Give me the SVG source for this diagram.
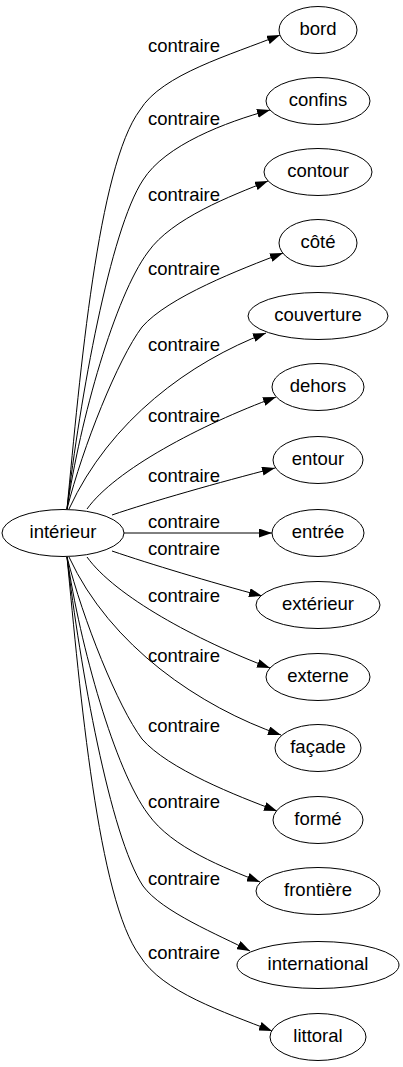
<svg xmlns="http://www.w3.org/2000/svg" width="403" height="1067" viewBox="0 0 403 1067">
<style>
.n ellipse{fill:#fff;stroke:#000;stroke-width:1}
text{font-family:"Liberation Sans",Arial,sans-serif;font-size:18.5px;fill:#000;text-anchor:middle}
.e path{fill:none;stroke:#000;stroke-width:1;marker-end:url(#ah)}
</style>
<defs>
<marker id="ah" viewBox="0 0 13 9" refX="13" refY="4.5" markerWidth="13" markerHeight="9" markerUnits="userSpaceOnUse" orient="auto">
<path d="M0,0 L13,4.5 L0,9 z" fill="#000"/>
</marker>
</defs>
<g id="edges" class="e">
<path d="M67,509 C80,374 98,166 140,110 C162,74 231,55 280,35"/>
<path d="M67,509 C80,399 110,230 143,180 C165,145 226,122 270,110"/>
<path d="M67,509 C80,420 115,296 148,252 C172,218 231,196 268,181"/>
<path d="M67,509 C83,446 118,359 142,327 C168,297 241,269 283,253"/>
<path d="M69,509 C110,420 190,362 266,333"/>
<path d="M87,509 C115,470 200,425 276,397"/>
<path d="M112,515 C150,502 220,482 275,468"/>
<path d="M124,533 L272,533"/>
<path d="M112,551 C150,564 210,582 262,596"/>
<path d="M87,557 C115,596 196,640 270,668"/>
<path d="M69,557 C110,646 200,707 281,735"/>
<path d="M67,557 C83,620 118,707 142,739 C168,769 237,796 277,811"/>
<path d="M67,557 C80,646 115,770 148,814 C172,848 225,868 260,882"/>
<path d="M67,557 C80,667 110,836 143,886 C162,912 219,935 250,951"/>
<path d="M67,557 C80,692 98,900 140,956 C162,992 224,1012 272,1031"/>
</g>
<g id="labels">
<text x="184" y="52">contraire</text>
<text x="184" y="125">contraire</text>
<text x="184" y="201">contraire</text>
<text x="184" y="275">contraire</text>
<text x="184" y="351">contraire</text>
<text x="184" y="422">contraire</text>
<text x="184" y="482">contraire</text>
<text x="184" y="528">contraire</text>
<text x="184" y="555">contraire</text>
<text x="184" y="602">contraire</text>
<text x="184" y="662">contraire</text>
<text x="184" y="732">contraire</text>
<text x="184" y="808">contraire</text>
<text x="184" y="885">contraire</text>
<text x="184" y="959">contraire</text>
</g>
<g id="n-interieur" class="n"><ellipse cx="63" cy="533" rx="61" ry="23.5"/><text x="63" y="538">intérieur</text></g>
<g id="n-bord" class="n"><ellipse cx="318" cy="30" rx="39" ry="23.5"/><text x="318" y="35">bord</text></g>
<g id="n-confins" class="n"><ellipse cx="318" cy="101" rx="52" ry="23.5"/><text x="318" y="106">confins</text></g>
<g id="n-contour" class="n"><ellipse cx="318" cy="172" rx="54" ry="23.5"/><text x="318" y="177">contour</text></g>
<g id="n-cote" class="n"><ellipse cx="318" cy="243" rx="39" ry="23.5"/><text x="318" y="248">côté</text></g>
<g id="n-couverture" class="n"><ellipse cx="318" cy="316" rx="70" ry="23.5"/><text x="318" y="321">couverture</text></g>
<g id="n-dehors" class="n"><ellipse cx="318" cy="387" rx="46" ry="23.5"/><text x="318" y="392">dehors</text></g>
<g id="n-entour" class="n"><ellipse cx="318" cy="460" rx="45" ry="23.5"/><text x="318" y="465">entour</text></g>
<g id="n-entree" class="n"><ellipse cx="318" cy="533" rx="46" ry="23.5"/><text x="318" y="538">entrée</text></g>
<g id="n-exterieur" class="n"><ellipse cx="318" cy="605" rx="62" ry="23.5"/><text x="318" y="610">extérieur</text></g>
<g id="n-externe" class="n"><ellipse cx="318" cy="677" rx="52" ry="23.5"/><text x="318" y="682">externe</text></g>
<g id="n-facade" class="n"><ellipse cx="318" cy="748" rx="43" ry="23.5"/><text x="318" y="753">façade</text></g>
<g id="n-forme" class="n"><ellipse cx="318" cy="820" rx="45" ry="23.5"/><text x="318" y="825">formé</text></g>
<g id="n-frontiere" class="n"><ellipse cx="318" cy="891" rx="62" ry="23.5"/><text x="318" y="896">frontière</text></g>
<g id="n-international" class="n"><ellipse cx="318" cy="965" rx="81" ry="23.5"/><text x="318" y="970">international</text></g>
<g id="n-littoral" class="n"><ellipse cx="318" cy="1037" rx="48" ry="23.5"/><text x="318" y="1042">littoral</text></g>
</svg>
